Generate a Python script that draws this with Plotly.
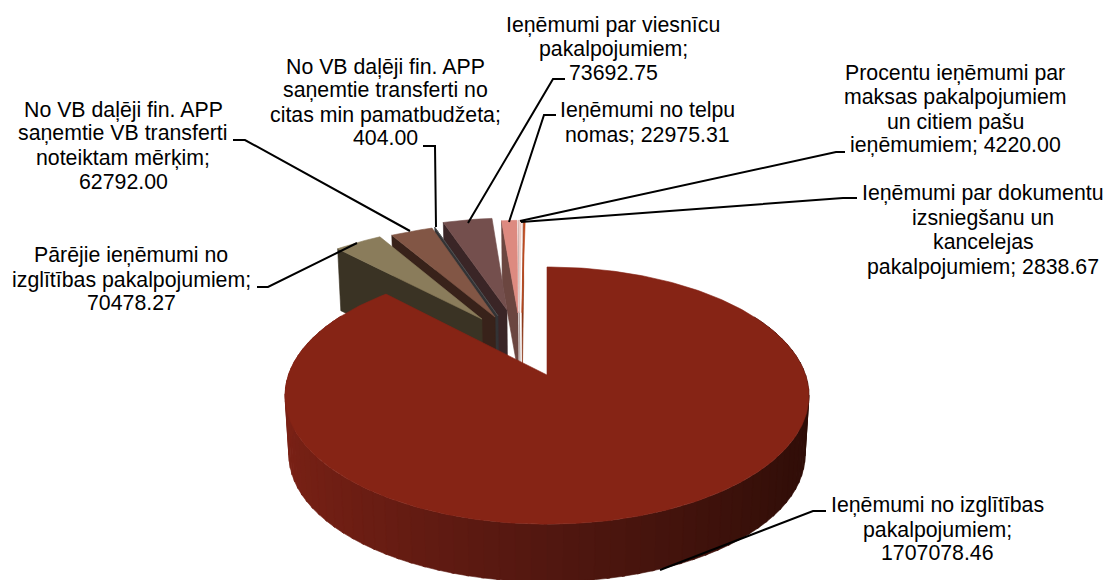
import numpy as np
import plotly.graph_objects as go

# ---- data ----
labels = [
    "Ieņēmumi no izglītības<br>pakalpojumiem;",
    "Pārējie ieņēmumi no<br>izglītības pakalpojumiem;",
    "No VB daļēji fin. APP<br>saņemtie VB transferti<br>noteiktam mērķim;",
    "No VB daļēji fin. APP<br>saņemtie transferti no<br>citas min pamatbudžeta;",
    "Ieņēmumi par viesnīcu<br>pakalpojumiem;",
    "Ieņēmumi no telpu<br>nomas;",
    "Procentu ieņēmumi par<br>maksas pakalpojumiem<br>un citiem pašu<br>ieņēmumiem;",
    "Ieņēmumi par dokumentu<br>izsniegšanu un<br>kancelejas<br>pakalpojumiem;",
]
values = [1707078.46, 70478.27, 62792.00, 404.00, 73692.75, 22975.31, 4220.00, 2838.67]
top_colors = ["#862415", "#8a7c5b", "#825645", "#555558", "#744f4d", "#dd8a80", "#eeccc6", "#c0481c"]
side_colors = ["#521710", "#3a3324", "#38221a", "#333335", "#3a2526", "#6b4640", "#a08a86", "#8a3414"]

# ---- layout / styling ----
value_sep = ["<br>", "<br>", "<br>", "<br>", "<br>", " ", " ", " "]
# explosion of each slice on the pie plane
explode_u = [0, -0.271, -0.217, -0.205, -0.169, -0.122, -0.115, -0.105]
explode_v = [0, 0.481, 0.499, 0.510, 0.567, 0.538, 0.540, 0.540]
label_x = [937, 131, 123, 385, 613, 647, 955, 983]
label_line_y = [[505, 530, 553], [255, 280, 303], [110, 133, 158, 182], [67, 90, 115, 138],
                [25, 49, 73], [110, 135], [73, 97, 122, 145], [193, 218, 242, 267]]
leader_x = [[660, 813, 826], [357, 268, 257], [410, 245, 233], [436, 435, 423],
            [468, 553, 565], [509, 544, 556], [520, 836, 845], [521, 843, 857]]
leader_y = [[570, 511, 511], [243, 287, 287], [231, 140, 140], [227, 146, 146],
            [223, 79, 79], [222, 115, 115], [221, 152, 152], [222, 198, 198]]
CX, Y0, A, B, K = 547, 375, 258.6, 125.3, 0.16
DEPTH, BOTTOM_SCALE = 60, 0.985


def project(u, v, low=False):
    """Perspective projection of pie-plane coordinates to the page."""
    d = 1 + K * v
    s = BOTTOM_SCALE if low else 1.0
    return CX + s * A * u / d, Y0 + (DEPTH if low else 0) + s * B * v / d * -1


def add_poly(fig, x, y, color):
    fig.add_trace(go.Scatter(x=list(x), y=list(y), mode="lines", fill="toself",
                             fillcolor=color, line=dict(color=color, width=0.6),
                             hoverinfo="skip", showlegend=False))


total = sum(values)
ends = np.cumsum(values) / total * 2 * np.pi
starts = np.concatenate([[0], ends[:-1]])

fig = go.Figure()

# exploded slices, back to front
for i in range(len(values) - 1, 0, -1):
    t0, t1 = starts[i], ends[i]
    ou, ov = explode_u[i], explode_v[i]
    # left radial cut face
    px0, py0 = project(ou + np.sin(t0), ov + np.cos(t0))
    px1, py1 = project(ou + np.sin(t0), ov + np.cos(t0), low=True)
    ax0, ay0 = project(ou, ov)
    ax1, ay1 = project(ou, ov, low=True)
    add_poly(fig, [px0, px1, ax1, ax0, px0], [py0, py1, ay1, ay0, py0], side_colors[i])
    # top face
    th = np.linspace(t0, t1, 12)
    rx, ry = project(ou + np.sin(th), ov + np.cos(th))
    add_poly(fig, [ax0, *rx, ax0], [ay0, *ry, ay0], top_colors[i])

# main slice wall, shaded left to right
left, mid, right = np.array([122, 33, 21]), np.array([82, 23, 16]), np.array([46, 13, 7])
deg = np.deg2rad(np.arange(60, 301, 3))
for a, b in zip(deg[:-1], deg[1:]):
    th = np.linspace(a, b + 0.01, 3)
    tx, ty = project(np.sin(th), np.cos(th))
    lx, ly = project(np.sin(th), np.cos(th), low=True)
    w = np.sin((a + b) / 2)
    c = mid + (right - mid) * w if w >= 0 else mid + (left - mid) * (-w)
    col = "rgb(%d,%d,%d)" % tuple(c.round())
    add_poly(fig, [*tx, *lx[::-1], tx[0]], [*ty, *ly[::-1], ty[0]], col)

# main slice top face
th = np.linspace(starts[0], ends[0], 360)
rx, ry = project(np.sin(th), np.cos(th))
ax0, ay0 = project(0.0, 0.0)
add_poly(fig, [ax0, *rx, ax0], [ay0, *ry, ay0], top_colors[0])

# leader lines
for lx, ly in zip(leader_x, leader_y):
    fig.add_trace(go.Scatter(x=lx, y=ly, mode="lines", line=dict(color="#000000", width=2),
                             hoverinfo="skip", showlegend=False))

# data labels, one annotation per line to hold the tight line spacing
for name, val, sep, x, ys in zip(labels, values, value_sep, label_x, label_line_y):
    for line, y in zip(f"{name}{sep}{val:.2f}".split("<br>"), ys):
        fig.add_annotation(x=x, y=y, text=line, showarrow=False,
                           xanchor="center", yanchor="middle", align="center",
                           font=dict(family="Liberation Sans, Arial, sans-serif", size=21.3, color="#000000"))

fig.update_layout(
    width=1106, height=580, margin=dict(l=0, r=0, t=0, b=0),
    paper_bgcolor="#ffffff", plot_bgcolor="#ffffff", showlegend=False,
    xaxis=dict(range=[0, 1106], visible=False),
    yaxis=dict(range=[580, 0], visible=False),
)
fig.write_html("out.html", config={"displayModeBar": False},
               post_script="document.body.style.margin='0';document.body.style.overflow='hidden';")
